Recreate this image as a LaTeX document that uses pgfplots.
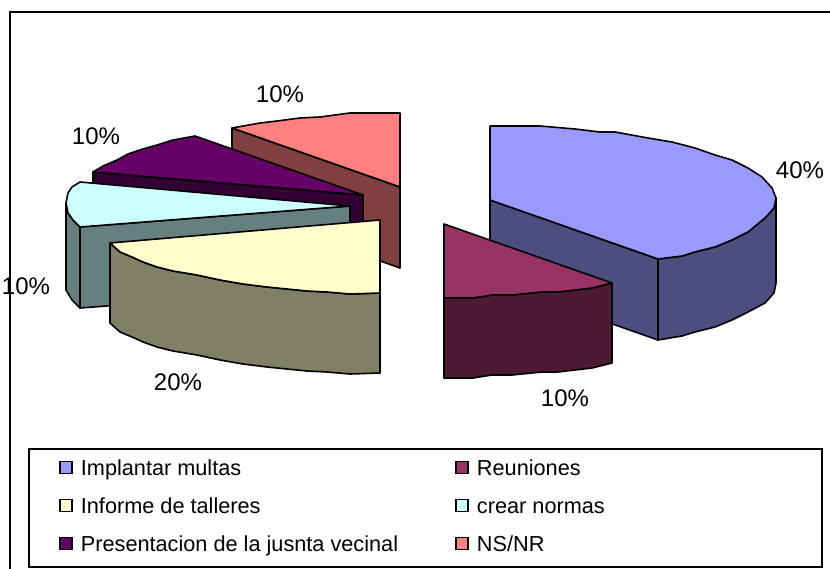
\documentclass[border=0pt]{standalone}
\usepackage{pgfplots}
\pgfplotsset{compat=1.18}
\usepackage{fontspec}
\setmainfont{Liberation Sans}
\definecolor{cblue}{HTML}{9999FF}\definecolor{sblue}{HTML}{4D4D80}
\definecolor{cmar}{HTML}{993366}\definecolor{smar}{HTML}{4D1A33}
\definecolor{cyel}{HTML}{FFFFCC}\definecolor{syel}{HTML}{808066}
\definecolor{ccya}{HTML}{CCFFFF}\definecolor{scya}{HTML}{668080}
\definecolor{cpur}{HTML}{660066}\definecolor{spur}{HTML}{330033}
\definecolor{cpin}{HTML}{FF8080}\definecolor{spin}{HTML}{804040}
\pgfplotsset{
  piece/.style={forget plot,draw=black,line width=1.6pt,line join=round,fill=#1},
  swatch/.style={draw=black,line width=1.6pt,fill=#1},
}
\newcommand{\lt}[1]{\makebox[366.5pt][l]{#1}}
\newcommand{\rt}[1]{\makebox[314.5pt][l]{#1}}
\begin{document}
\begin{tikzpicture}
\begin{axis}[
  at={(0pt,0pt)},anchor=south west,
  width=830pt,height=569pt,scale only axis,
  xmin=0,xmax=830,ymin=0,ymax=569,y dir=reverse,
  hide axis,clip mode=individual,
  legend columns=2,
  legend cell align=left,
  legend image code/.code={\draw[#1] (0pt,-3.5pt) rectangle (12pt,8.5pt);},
  legend style={at={(axis cs:28,448)},anchor=north west,draw=black,line width=1.6pt,
    fill=white,font=\fontsize{21.7}{25}\selectfont,inner xsep=30.5pt,inner ysep=11pt,
    nodes={inner sep=0pt,text height=16pt,text depth=4pt,line width=0pt},
    /tikz/row sep=18pt,/tikz/column sep=8pt,
  },
]
% frame
\addplot[forget plot,draw=black,line width=1.7pt] coordinates {(10,569)(10,12)(830,12)};
% legend
\addlegendimage{swatch=cblue}\addlegendentry{\lt{Implantar multas}}
\addlegendimage{swatch=cmar}\addlegendentry{\rt{Reuniones}}
\addlegendimage{swatch=cyel}\addlegendentry{\lt{Informe de talleres}}
\addlegendimage{swatch=ccya}\addlegendentry{\rt{crear normas}}
\addlegendimage{swatch=cpur}\addlegendentry{\lt{Presentacion de la jusnta vecinal}}
\addlegendimage{swatch=cpin}\addlegendentry{\rt{NS/NR}}
% NS/NR
\addplot[piece=spin] coordinates {(232,128)(400,187)(400,268)(232,208)} --cycle;
\addplot[piece=cpin] coordinates {(400,113)(350,113)(320,117)(300,118)(277,121)(260,123)(232,128)(400,187)} --cycle;
% Presentacion
\addplot[piece=spur] coordinates {(93,172)(363,195)(363,225)(93,200)} --cycle;
\addplot[piece=cpur] coordinates {(363,195)(195,136)(173,140)(157,145)(143,149)(128,154)(117,160)(103,166)(93,172)} --cycle;
% crear normas
\addplot[piece=scya] coordinates {(80,227)(350,206)(350,288)(80,308)} --cycle;
\addplot[piece=scya] coordinates {(66,203)(68,213)(73,220)(80,227)(80,308)(72,300)(66,290)} --cycle;
\addplot[piece=ccya] coordinates {(350,206)(80,182)(72,187)(68,193)(66,203)(68,213)(73,220)(80,227)} --cycle;
% Informe
\addplot[piece=syel] coordinates {(110,243)(120,252)(132,257)(143,262)(157,267)(173,271)(197,275)(220,280)(243,284)(267,287)(287,289)(307,291)(327,292)(350,294)(380,293)(380,373)(350,374)(327,372)(307,371)(287,369)(267,367)(243,364)(220,360)(197,355)(173,351)(157,347)(143,342)(132,337)(120,332)(110,323)} --cycle;
\addplot[piece=cyel] coordinates {(380,220)(110,243)(120,252)(132,257)(143,262)(157,267)(173,271)(197,275)(220,280)(243,284)(267,287)(287,289)(307,291)(327,292)(350,294)(380,293)} --cycle;
% Implantar
\addplot[piece=sblue] coordinates {(490,200)(658,259)(658,340)(490,281)} --cycle;
\addplot[piece=sblue] coordinates {(658,259)(682,256)(695,252)(715,247)(732,240)(748,232)(765,218)(774,208)(776,198)(776,283)(774,293)(765,303)(748,312)(732,320)(715,327)(695,332)(682,336)(658,340)} --cycle;
\addplot[piece=cblue] coordinates {(490,126)(540,126)(575,129)(600,132)(615,132)(648,138)(672,142)(695,148)(715,155)(732,160)(748,168)(762,177)(772,188)(776,198)(774,208)(765,218)(748,232)(732,240)(715,247)(695,252)(682,256)(658,259)(490,200)} --cycle;
% Reuniones
\addplot[piece=smar] coordinates {(444,298)(473,298)(492,295)(512,295)(542,292)(558,292)(575,290)(592,288)(612,283)(612,363)(592,368)(575,370)(558,372)(542,372)(512,375)(492,375)(473,378)(444,378)} --cycle;
\addplot[piece=cmar] coordinates {(444,224)(612,283)(592,288)(575,290)(558,292)(542,292)(512,295)(492,295)(473,298)(444,298)} --cycle;
% labels
\node[font=\fontsize{24}{26}\selectfont] at (axis cs:800,170) {40\%};
\node[font=\fontsize{24}{26}\selectfont] at (axis cs:280,94) {10\%};
\node[font=\fontsize{24}{26}\selectfont] at (axis cs:96,136) {10\%};
\node[font=\fontsize{24}{26}\selectfont] at (axis cs:26,286) {10\%};
\node[font=\fontsize{24}{26}\selectfont] at (axis cs:178,382) {20\%};
\node[font=\fontsize{24}{26}\selectfont] at (axis cs:565,398) {10\%};
\end{axis}
\pgfresetboundingbox
\path[use as bounding box] (0pt,0pt) rectangle (830pt,569pt);
\end{tikzpicture}
\end{document}
